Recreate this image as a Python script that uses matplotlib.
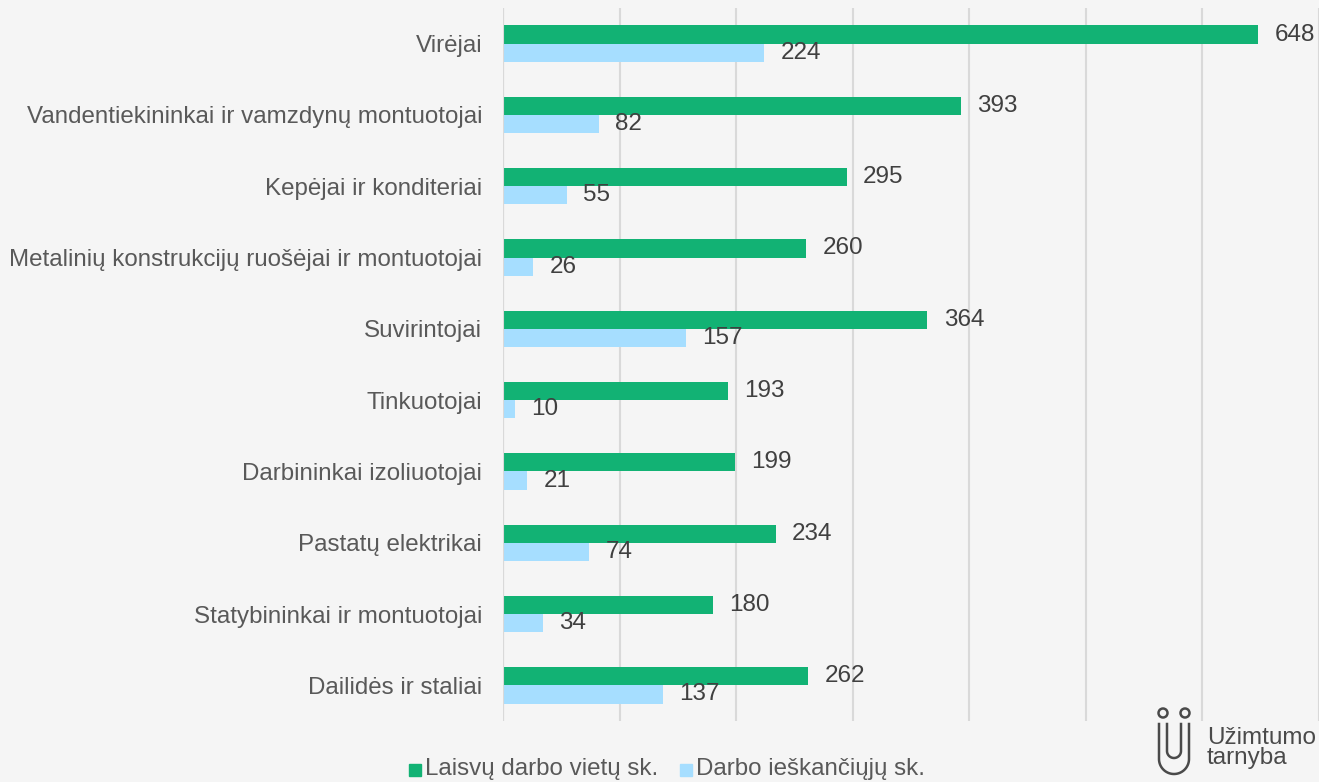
import numpy as np
import matplotlib.pyplot as plt
from matplotlib.patches import Circle, Rectangle

categories = ["Virėjai", "Vandentiekininkai ir vamzdynų montuotojai",
              "Kepėjai ir konditeriai",
              "Metalinių konstrukcijų ruošėjai ir montuotojai",
              "Suvirintojai", "Tinkuotojai", "Darbininkai izoliuotojai",
              "Pastatų elektrikai", "Statybininkai ir montuotojai",
              "Dailidės ir staliai"]
vacancies = [648, 393, 295, 260, 364, 193, 199, 234, 180, 262]
seekers = [224, 82, 55, 26, 157, 10, 21, 74, 34, 137]
series_names = ["Laisvų darbo vietų sk.", "Darbo ieškančiųjų sk."]

green = "#12B274"
blue = "#A6DEFF"
bg = "#F5F5F5"
txt = "#595959"

plt.rcParams['font.family'] = ['Liberation Sans', 'DejaVu Sans']

fig = plt.figure(figsize=(13.19, 7.82), dpi=100, facecolor=bg)
ax = fig.add_axes([503 / 1319, 1 - 721 / 782, 1 - 503 / 1319, 713 / 782])
ax.set_facecolor(bg)

y = np.arange(len(categories))
h = 0.255
ax.barh(y - h / 2, vacancies, height=h, color=green, zorder=3)
ax.barh(y + h / 2, seekers, height=h, color=blue, zorder=3)

for yi, v, s in zip(y, vacancies, seekers):
    ax.text(v + 14, yi - h / 2, str(v), va='center', ha='left',
            fontsize=17.5, color="#404040")
    ax.text(s + 14, yi + h / 2, str(s), va='center', ha='left',
            fontsize=17.5, color="#404040")

ax.set_xlim(0, 700)
ax.set_ylim(len(categories) - 0.5, -0.5)
ax.set_xticks(np.arange(0, 701, 100))
ax.set_xticklabels([])
ax.tick_params(axis='x', length=0)
ax.tick_params(axis='y', length=0, pad=15, labelsize=17.4, labelcolor=txt)
ax.set_yticks(y)
ax.set_yticklabels(categories)
ax.grid(axis='x', color="#D9D9D9", linewidth=1.5, zorder=0)
for sp in ax.spines.values():
    sp.set_visible(False)
ax.axvline(0, color="#D9D9D9", linewidth=1.5, zorder=4)

# legend
fig.patches.append(Rectangle((409 / 1319, 1 - 776 / 782), 12 / 1319, 12 / 782,
                             transform=fig.transFigure, color=green))
fig.text(425 / 1319, 1 - 769 / 782, series_names[0], va='center', ha='left',
         fontsize=17.4, color=txt)
fig.patches.append(Rectangle((680 / 1319, 1 - 776 / 782), 12 / 1319, 12 / 782,
                             transform=fig.transFigure, color=blue))
fig.text(696 / 1319, 1 - 769 / 782, series_names[1], va='center', ha='left',
         fontsize=17.4, color=txt)

# logo
lax = fig.add_axes([1150 / 1319, 0, 169 / 1319, 92 / 782])
lax.set_xlim(1150, 1319)
lax.set_ylim(782, 690)
lax.axis('off')
logo_c = "#4A4A4A"
for cx in (1163, 1185):
    lax.add_patch(Circle((cx, 713), 4.5, fill=False, edgecolor=logo_c, lw=1.8))
t = np.linspace(np.pi, 2 * np.pi, 40)
ux = 1174 + 15 * np.cos(t)
uy = 759 - 15 * np.sin(t)
lax.plot(np.r_[1159, 1159, ux, 1189, 1189], np.r_[724, 759, uy, 759, 724],
         color=logo_c, lw=1.8)
ix = 1174 + 7 * np.cos(t)
iy = 751 - 7 * np.sin(t)
lax.plot(np.r_[1167, 1167, ix, 1181, 1181], np.r_[724, 751, iy, 751, 724],
         color=logo_c, lw=1.8)
lax.text(1207, 748, "Užimtumo\ntarnyba", va='center', ha='left',
         fontsize=17.5, color=logo_c, linespacing=0.9)

fig.savefig("out.png", dpi=100, facecolor=bg)
